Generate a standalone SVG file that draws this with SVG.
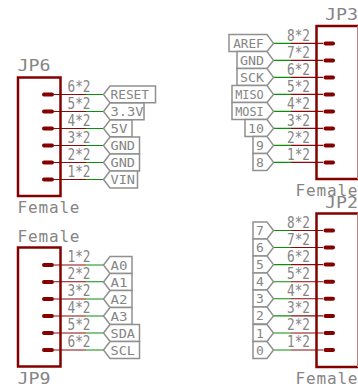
<svg xmlns="http://www.w3.org/2000/svg" width="358" height="388" viewBox="0 0 358 388">
<style>
text{font-family:"DejaVu Sans Mono","Liberation Mono",monospace;fill:#858585}
.n{font-size:16px}
.p{font-size:15px}
.l{font-size:13px}
.b{fill:none;stroke:#840000;stroke-width:2.500}
.g{fill:#fff;stroke:#909090;stroke-width:1.500}
.r{stroke:#8a0a0a;stroke-width:1.100;fill:none}
.w{stroke:#0a8f0a;stroke-width:1.100;fill:none}
.h{stroke:#840000;stroke-width:4;stroke-linecap:round;fill:none}
</style>
<rect width="358" height="388" fill="#fff"/>
<g id="connectors">
<path class="r" d="M54 94.500H86M54 111.500H86M54 128.500H86M54 145.500H86M54 162.500H86M54 179.500H86"/>
<path class="w" d="M86 94.500H104M86 111.500H104M86 128.500H104M86 145.500H104M86 162.500H104M86 179.500H104"/>
<path class="r" d="M54 265H86M54 281.800H86M54 299H86M54 316H86M54 333H86M54 350H86"/>
<path class="w" d="M86 265H104M86 281.800H104M86 299H104M86 316H104M86 333H104M86 350H104"/>
<path class="r" d="M323 43.400H291M323 60.400H291M323 77.400H291M323 94.400H291M323 111.400H291M323 128.400H291M323 145.400H291M323 162.400H291"/>
<path class="w" d="M291 43.400H273M291 60.400H273M291 77.400H273M291 94.400H273M291 111.400H273M291 128.400H273M291 145.400H273M291 162.400H273"/>
<path class="r" d="M323 230.500H291M323 247.500H291M323 264.600H291M323 281.700H291M323 298.800H291M323 315.900H291M323 333H291M323 350H291"/>
<path class="w" d="M291 230.500H273M291 247.500H273M291 264.600H273M291 281.700H273M291 298.800H273M291 315.900H273M291 333H273M291 350H273"/>
</g>
<g id="JP6">
<rect class="b" x="18" y="77.500" width="42.500" height="118.500"/>
<path class="h" d="M44 94.500H52M44 111.500H52M44 128.500H52M44 145.500H52M44 162.500H52M44 179.500H52"/>
<text class="n" x="17.500" y="71" textLength="33" lengthAdjust="spacingAndGlyphs">JP6</text>
<text class="n" x="17.500" y="213" textLength="62">Female</text>
<g class="p"><text x="67.500" y="91.500" textLength="23" lengthAdjust="spacingAndGlyphs">6*2</text><text x="67.500" y="108.500" textLength="23" lengthAdjust="spacingAndGlyphs">5*2</text><text x="67.500" y="125.500" textLength="23" lengthAdjust="spacingAndGlyphs">4*2</text><text x="67.500" y="142.500" textLength="23" lengthAdjust="spacingAndGlyphs">3*2</text><text x="67.500" y="159.500" textLength="23" lengthAdjust="spacingAndGlyphs">2*2</text><text x="67.500" y="176.500" textLength="23" lengthAdjust="spacingAndGlyphs">1*2</text></g>
</g>
<g id="JP9">
<rect class="b" x="18" y="247.500" width="42.500" height="119"/>
<path class="h" d="M44 265H52M44 282H52M44 299H52M44 316H52M44 333H52M44 350H52"/>
<text class="n" x="17.500" y="242" textLength="62">Female</text>
<text class="n" x="17.500" y="384" textLength="33" lengthAdjust="spacingAndGlyphs">JP9</text>
<g class="p"><text x="67.500" y="262" textLength="23" lengthAdjust="spacingAndGlyphs">1*2</text><text x="67.500" y="279" textLength="23" lengthAdjust="spacingAndGlyphs">2*2</text><text x="67.500" y="296" textLength="23" lengthAdjust="spacingAndGlyphs">3*2</text><text x="67.500" y="313" textLength="23" lengthAdjust="spacingAndGlyphs">4*2</text><text x="67.500" y="330" textLength="23" lengthAdjust="spacingAndGlyphs">5*2</text><text x="67.500" y="347" textLength="23" lengthAdjust="spacingAndGlyphs">6*2</text></g>
</g>
<g id="JP3">
<path class="b" d="M358 26H316.500V179H358"/>
<path d="M357.500 26V179" fill="none" stroke="#c08080" stroke-width="1"/>
<path class="h" d="M325.500 43.400H333M325.500 60.400H333M325.500 77.400H333M325.500 94.400H333M325.500 111.400H333M325.500 128.400H333M325.500 145.400H333M325.500 162.400H333"/>
<text class="n" x="325" y="20" textLength="33" lengthAdjust="spacingAndGlyphs">JP3</text>
<text class="n" x="295.500" y="196" textLength="62">Female</text>
<g class="p"><text x="287" y="40.500" textLength="23" lengthAdjust="spacingAndGlyphs">8*2</text><text x="287" y="57.500" textLength="23" lengthAdjust="spacingAndGlyphs">7*2</text><text x="287" y="74.500" textLength="23" lengthAdjust="spacingAndGlyphs">6*2</text><text x="287" y="91.500" textLength="23" lengthAdjust="spacingAndGlyphs">5*2</text><text x="287" y="108.500" textLength="23" lengthAdjust="spacingAndGlyphs">4*2</text><text x="287" y="125.500" textLength="23" lengthAdjust="spacingAndGlyphs">3*2</text><text x="287" y="142.500" textLength="23" lengthAdjust="spacingAndGlyphs">2*2</text><text x="287" y="159.500" textLength="23" lengthAdjust="spacingAndGlyphs">1*2</text></g>
</g>
<g id="JP2">
<path class="b" d="M358 213.500H316.500V367H358"/>
<path d="M357.500 213.500V367" fill="none" stroke="#c08080" stroke-width="1"/>
<path class="h" d="M325.500 230.500H333M325.500 247.500H333M325.500 264.600H333M325.500 281.700H333M325.500 298.800H333M325.500 315.900H333M325.500 333H333M325.500 350H333"/>
<text class="n" x="325" y="208" textLength="33" lengthAdjust="spacingAndGlyphs">JP2</text>
<text class="n" x="295.500" y="384" textLength="62">Female</text>
<g class="p"><text x="287" y="228" textLength="23" lengthAdjust="spacingAndGlyphs">8*2</text><text x="287" y="245" textLength="23" lengthAdjust="spacingAndGlyphs">7*2</text><text x="287" y="262" textLength="23" lengthAdjust="spacingAndGlyphs">6*2</text><text x="287" y="279" textLength="23" lengthAdjust="spacingAndGlyphs">5*2</text><text x="287" y="296" textLength="23" lengthAdjust="spacingAndGlyphs">4*2</text><text x="287" y="313" textLength="23" lengthAdjust="spacingAndGlyphs">3*2</text><text x="287" y="330" textLength="23" lengthAdjust="spacingAndGlyphs">2*2</text><text x="287" y="347" textLength="23" lengthAdjust="spacingAndGlyphs">1*2</text></g>
</g>
<g id="label-RESET"><path class="g" d="M103.500 94.500L110 86H155.500V102.800H110Z"/><text class="l" x="110.500" y="99" textLength="38.500" lengthAdjust="spacingAndGlyphs">RESET</text></g>
<g id="label-3V3"><path class="g" d="M103.500 111.500L110 103H144V119.800H110Z"/><text class="l" x="110.500" y="116" textLength="33" lengthAdjust="spacingAndGlyphs">3.3V</text></g>
<g id="label-5V"><path class="g" d="M103.500 128.500L110 120H132V136.800H110Z"/><text class="l" x="110.500" y="133" textLength="17" lengthAdjust="spacingAndGlyphs">5V</text></g>
<g id="label-GND1"><path class="g" d="M103.500 145.500L110 137H139.500V154H110Z"/><text class="l" x="110.500" y="150" textLength="24.500" lengthAdjust="spacingAndGlyphs">GND</text></g>
<g id="label-GND2"><path class="g" d="M103.500 162.500L110 154H139.500V171H110Z"/><text class="l" x="110.500" y="167" textLength="24.500" lengthAdjust="spacingAndGlyphs">GND</text></g>
<g id="label-VIN"><path class="g" d="M103.500 179.500L110 171H137.500V188H110Z"/><text class="l" x="110.500" y="184" textLength="24.500" lengthAdjust="spacingAndGlyphs">VIN</text></g>
<g id="label-A0"><path class="g" d="M103.500 265L110 256.500H132V273.500H110Z"/><text class="l" x="110.500" y="269.500" textLength="17" lengthAdjust="spacingAndGlyphs">A0</text></g>
<g id="label-A1"><path class="g" d="M103.500 282L110 273.500H132V290.500H110Z"/><text class="l" x="110.500" y="286.500" textLength="17" lengthAdjust="spacingAndGlyphs">A1</text></g>
<g id="label-A2"><path class="g" d="M103.500 299L110 290.500H132V307.500H110Z"/><text class="l" x="110.500" y="303.500" textLength="17" lengthAdjust="spacingAndGlyphs">A2</text></g>
<g id="label-A3"><path class="g" d="M103.500 316L110 307.500H132V324.500H110Z"/><text class="l" x="110.500" y="320.500" textLength="17" lengthAdjust="spacingAndGlyphs">A3</text></g>
<g id="label-SDA"><path class="g" d="M103.500 333L110 324.500H139.500V341.500H110Z"/><text class="l" x="110.500" y="337.500" textLength="24.500" lengthAdjust="spacingAndGlyphs">SDA</text></g>
<g id="label-SCL"><path class="g" d="M103.500 350L110 341.500H139.500V358.500H110Z"/><text class="l" x="110.500" y="354.500" textLength="24.500" lengthAdjust="spacingAndGlyphs">SCL</text></g>
<g id="label-AREF"><path class="g" d="M273.500 43.400L267 34.500H229V51.500H267Z"/><text class="l" x="233.200" y="47.500" textLength="30.500" lengthAdjust="spacingAndGlyphs">AREF</text></g>
<g id="label-GND3"><path class="g" d="M273.500 60.400L267 51.500H237V68.500H267Z"/><text class="l" x="240" y="64.500" textLength="24" lengthAdjust="spacingAndGlyphs">GND</text></g>
<g id="label-SCK"><path class="g" d="M273.500 77.400L267 68.500H237V85.500H267Z"/><text class="l" x="240" y="81.500" textLength="24" lengthAdjust="spacingAndGlyphs">SCK</text></g>
<g id="label-MISO"><path class="g" d="M273.500 94.400L267 85.500H232V102.500H267Z"/><text class="l" x="235.200" y="98.500" textLength="28.500" lengthAdjust="spacingAndGlyphs">MISO</text></g>
<g id="label-MOSI"><path class="g" d="M273.500 111.400L267 102.500H232V119.500H267Z"/><text class="l" x="235.200" y="115.500" textLength="28.500" lengthAdjust="spacingAndGlyphs">MOSI</text></g>
<g id="label-10"><path class="g" d="M273.500 128.400L267 119.500H245V136.500H267Z"/><text class="l" x="248" y="132.500" textLength="16" lengthAdjust="spacingAndGlyphs">10</text></g>
<g id="label-9"><path class="g" d="M273.500 145.400L267 136.500H253V153.500H267Z"/><text class="l" x="256" y="149.500">9</text></g>
<g id="label-8"><path class="g" d="M273.500 162.400L267 153.500H253V170.500H267Z"/><text class="l" x="256" y="166.500">8</text></g>
<g id="label-7"><path class="g" d="M273.500 230.500L267 222H253V239H267Z"/><text class="l" x="256" y="235">7</text></g>
<g id="label-6"><path class="g" d="M273.500 247.500L267 239H253V256H267Z"/><text class="l" x="256" y="252">6</text></g>
<g id="label-5"><path class="g" d="M273.500 264.600L267 256H253V273H267Z"/><text class="l" x="256" y="269">5</text></g>
<g id="label-4"><path class="g" d="M273.500 281.700L267 273H253V290H267Z"/><text class="l" x="256" y="286">4</text></g>
<g id="label-3"><path class="g" d="M273.500 298.800L267 290H253V307H267Z"/><text class="l" x="256" y="303">3</text></g>
<g id="label-2"><path class="g" d="M273.500 315.900L267 307H253V324H267Z"/><text class="l" x="256" y="320">2</text></g>
<g id="label-1"><path class="g" d="M273.500 333L267 324.500H253V341.500H267Z"/><text class="l" x="256" y="337.500">1</text></g>
<g id="label-0"><path class="g" d="M273.500 350L267 341.500H253V358.500H267Z"/><text class="l" x="256" y="354.500">0</text></g>
</svg>
